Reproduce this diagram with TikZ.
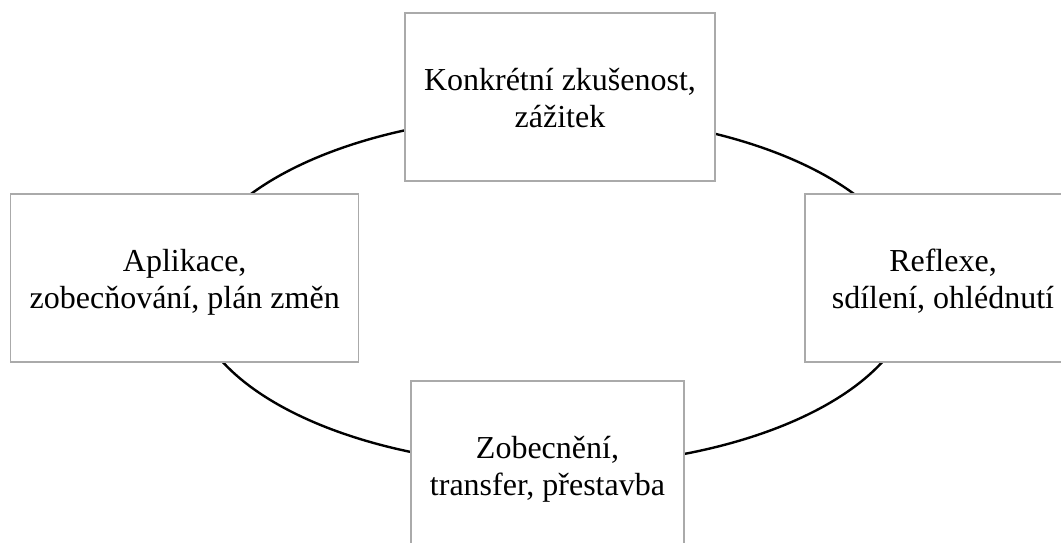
\documentclass[tikz,border=0pt]{standalone}
\usepackage{fontspec}
\setmainfont{Liberation Serif}
\definecolor{boxgray}{RGB}{170,170,170}
\tikzset{
  cyclebox/.style={draw=boxgray, line width=1.2pt, fill=white, rectangle, inner sep=0pt, minimum height=168pt},
  boxtext/.style={align=center, inner sep=0pt, font=\fontsize{32}{37}\selectfont},
  cycleline/.style={draw=black, line width=2.4pt}
}
\begin{document}
\begin{tikzpicture}[x=1pt,y=-1pt]
\useasboundingbox (0,0) rectangle (1061,542);
\clip (0,0) rectangle (1061,542);
\path[cycleline] (552.5,290.5) ellipse [x radius=361, y radius=175.5];
\node[cyclebox, minimum width=310pt] (top) at (560,97) {};
\node[cyclebox, minimum width=348pt] (left) at (184.7,278) {};
\node[cyclebox, minimum width=276pt] (right) at (943,278) {};
\node[cyclebox, minimum width=273pt] (bottom) at (547.5,465) {};
\node[boxtext] (topT) at ([yshift=-1pt]top.center) {Konkrétní zkušenost,\\zážitek};
\node[boxtext] (leftT) at ([yshift=-4pt]left.center) {Aplikace,\\zobecňování, plán změn};
\node[boxtext] (rightT) at ([yshift=-3pt]right.center) {Reflexe,\\sdílení, ohlédnutí};
\node[boxtext] (bottomT) at ([yshift=-4pt]bottom.center) {Zobecnění,\\transfer, přestavba};
\end{tikzpicture}
\end{document}
